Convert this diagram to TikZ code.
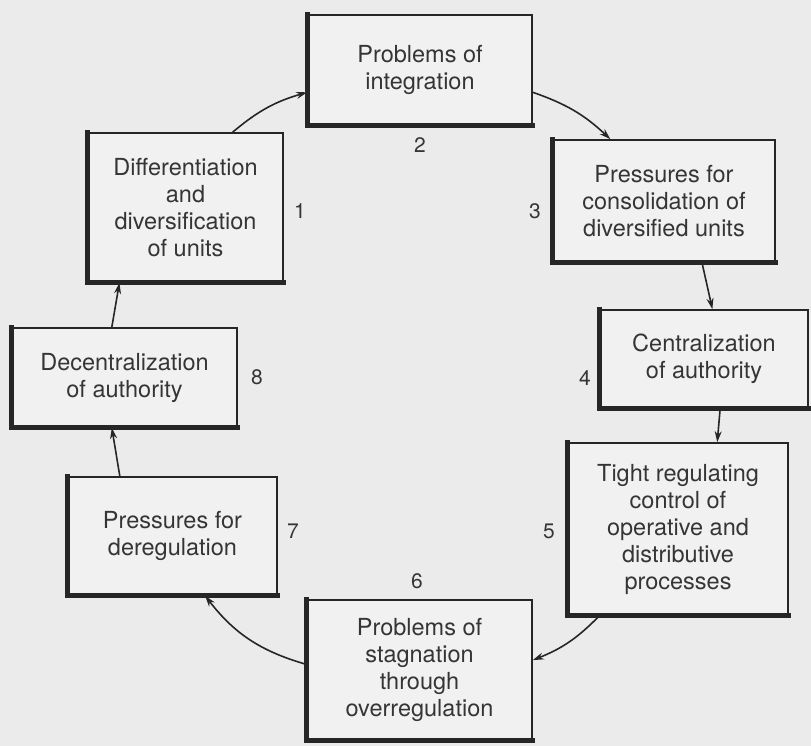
\documentclass[tikz,border=0pt]{standalone}
\usepackage{fontspec}
\setmainfont{TeX Gyre Heros}
\usetikzlibrary{arrows.meta,calc}
\definecolor{bg}{HTML}{EBEBEB}
\definecolor{boxfill}{HTML}{F1F1F1}
\definecolor{ink}{HTML}{262626}
\definecolor{txt}{HTML}{353535}
\begin{document}
\begin{tikzpicture}[x=1pt,y=1pt,
  stagebox/.style={draw=ink, line width=1.7pt, fill=boxfill, text=txt, align=center,
    font=\fontsize{23.5}{27}\selectfont, inner sep=0pt},
  numlabel/.style={text=txt, font=\fontsize{21}{24}\selectfont},
  flow/.style={draw=ink, line width=1.6pt, -{Stealth[length=11pt,width=7pt]}},
  heavy/.style={draw=ink, line width=5pt, line cap=rect}]
\fill[bg] (0,0) rectangle (811,-746);
\useasboundingbox (0,0) rectangle (811,-746);

\node[stagebox, minimum width=195pt, minimum height=149pt] (b1) at (185.5,-207.5)
  {Differentiation\\and\\diversification\\of units};
\node[stagebox, minimum width=224pt, minimum height=110pt] (b2) at (420,-70)
  {Problems of\\integration};
\node[stagebox, minimum width=222pt, minimum height=122pt] (b3) at (664,-201)
  {Pressures for\\consolidation of\\diversified units};
\node[stagebox, minimum width=208pt, minimum height=98pt] (b4) at (704,-359)
  {Centralization\\of authority};
\node[stagebox, minimum width=220pt, minimum height=172pt] (b5) at (678,-529)
  {Tight regulating\\control of\\operative and\\distributive\\processes};
\node[stagebox, minimum width=225pt, minimum height=140pt] (b6) at (419.5,-670)
  {Problems of\\stagnation\\through\\overregulation};
\node[stagebox, minimum width=209pt, minimum height=118pt] (b7) at (172.5,-536)
  {Pressures for\\deregulation};
\node[stagebox, minimum width=225pt, minimum height=99pt] (b8) at (124.5,-377.5)
  {Decentralization\\of authority};

\foreach \b in {b1,b2,b3,b4,b5,b6,b7,b8}
  \draw[heavy] (\b.north west) -- (\b.south west) -- (\b.south east);

\node[numlabel] (n1) at (300,-211) {1};
\node[numlabel] (n2) at (420,-145) {2};
\node[numlabel] (n3) at (535,-211) {3};
\node[numlabel] (n4) at (585,-378) {4};
\node[numlabel] (n5) at (549,-531) {5};
\node[numlabel] (n6) at (417,-581) {6};
\node[numlabel] (n7) at (293,-531) {7};
\node[numlabel] (n8) at (257,-377) {8};

\draw[flow] ($(b1.north west)!0.74!(b1.north east)$) to[bend left=12] ($(b2.north west)!0.7!(b2.south west)$);
\draw[flow] ($(b2.north east)!0.7!(b2.south east)$) to[bend left=12] ($(b3.north west)!0.26!(b3.north east)$);
\draw[flow] ($(b3.south west)!0.67!(b3.south east)$) -- ($(b4.north west)!0.54!(b4.north east)$);
\draw[flow] ($(b4.south west)!0.577!(b4.south east)$) -- ($(b5.north west)!0.677!(b5.north east)$);
\draw[flow] ($(b5.south west)!0.145!(b5.south east)$) to[bend left=12] ($(b6.north east)!0.43!(b6.south east)$);
\draw[flow] ($(b6.north west)!0.46!(b6.south west)$) to[bend left=18] ($(b7.south west)!0.655!(b7.south east)$);
\draw[flow] ($(b7.north west)!0.25!(b7.north east)$) -- ($(b8.south west)!0.444!(b8.south east)$);
\draw[flow] ($(b8.north west)!0.444!(b8.north east)$) -- ($(b1.south west)!0.164!(b1.south east)$);
\end{tikzpicture}
\end{document}
